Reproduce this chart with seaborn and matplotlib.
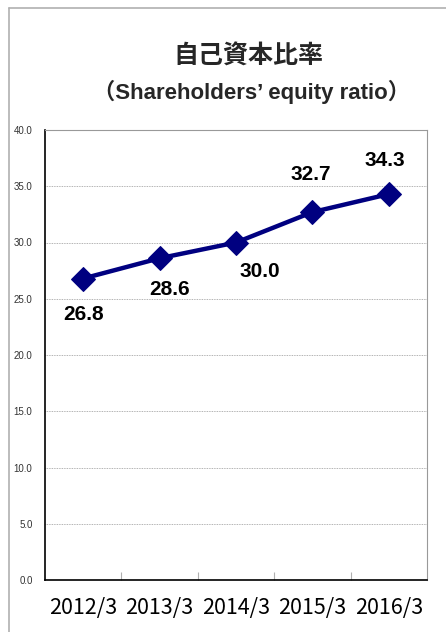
import matplotlib
matplotlib.use('Agg')
import matplotlib.pyplot as plt
import seaborn as sns
import pandas as pd
from matplotlib.lines import Line2D

# === Data ===
periods = ['2012/3', '2013/3', '2014/3', '2015/3', '2016/3']
equity_ratio = [26.8, 28.6, 30.0, 32.7, 34.3]
y_ticks = [0, 5, 10, 15, 20, 25, 30, 35, 40]

# label offsets (points) for each value label
label_offsets = [(0, -26), (7, -22.5), (17, -21), (-1.5, 27), (-3, 24)]

df = pd.DataFrame({'period': periods, 'ratio': equity_ratio})

sns.set_theme(style='white')
plt.rcParams['font.family'] = ['Noto Sans CJK JP', 'DejaVu Sans']

fig = plt.figure(figsize=(4.46, 6.32), dpi=100)
ax = fig.add_axes([45 / 446, 52 / 632, 382 / 446, 450 / 632])

# outer frame (only top / left visible in the reference)
fx, fy = 8.5 / 446, 1 - 7.5 / 632
fig.lines.append(Line2D([fx, fx], [0, fy], transform=fig.transFigure,
                        color='#b0b0b0', linewidth=1.2))
fig.lines.append(Line2D([fx, 1], [fy, fy], transform=fig.transFigure,
                        color='#b0b0b0', linewidth=1.2))

sns.lineplot(data=df, x='period', y='ratio', ax=ax, color='#000080',
             linewidth=3.2, marker='D', markersize=12,
             markeredgecolor='#000080', sort=False)

ax.set_xlim(-0.5, len(periods) - 0.5)
ax.set_ylim(0, 40)
ax.set_yticks(y_ticks)
ax.set_yticklabels([f'{v:.1f}' for v in y_ticks], fontsize=7, color='#333333',
                   family=['Liberation Sans', 'DejaVu Sans'])
ax.tick_params(axis='y', length=0, pad=9)
ax.tick_params(axis='x', length=0, pad=12, labelsize=15.5, labelcolor='black')
ax.set_xticks(range(len(periods)))
ax.set_xticklabels(periods)
ax.set_xticks([i + 0.5 for i in range(len(periods) - 1)], minor=True)
ax.tick_params(axis='x', which='minor', direction='in', length=6,
               color='#b0b0b0', width=0.8, bottom=True)
ax.set_xlabel('')
ax.set_ylabel('')

ax.grid(axis='y', color='#999999', linestyle=(0, (1, 1)), linewidth=0.6)
ax.set_axisbelow(True)
for side in ['top', 'right']:
    ax.spines[side].set_color('#999999')
    ax.spines[side].set_linewidth(0.8)
for side in ['left', 'bottom']:
    ax.spines[side].set_color('black')
    ax.spines[side].set_linewidth(1.2)

for i, v in enumerate(equity_ratio):
    ax.annotate(f'{v:.1f}', (i, v), xytext=label_offsets[i],
                textcoords='offset points', ha='center', va='center',
                fontsize=15, fontweight='bold', color='black',
                family=['Liberation Sans', 'DejaVu Sans'])

fig.text(248.5 / 446, 1 - 57 / 632, '自己資本比率', ha='center', va='center',
         fontsize=18, fontweight='bold')
fig.text(252 / 446, 1 - 92 / 632, '（Shareholders\u2019 equity ratio）',
         ha='center', va='center', fontsize=16, fontweight='bold',
         family=['Liberation Sans', 'Noto Sans CJK JP', 'DejaVu Sans'])

fig.savefig('out.png', dpi=100)
